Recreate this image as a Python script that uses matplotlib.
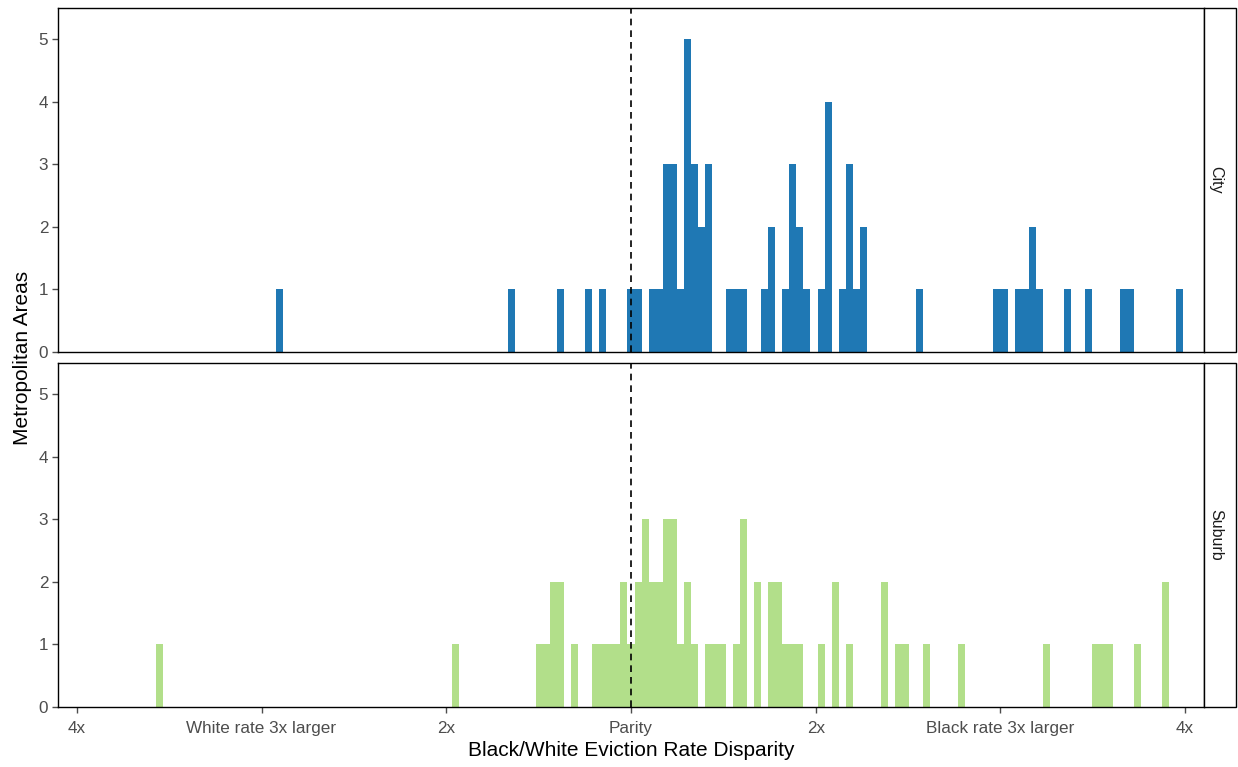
import numpy as np
import matplotlib
matplotlib.use("Agg")
import matplotlib.pyplot as plt
from matplotlib.patches import Rectangle

plt.rcParams['font.family'] = ['Liberation Sans', 'DejaVu Sans']

# histogram data: bin index (bin centre = index * binwidth) and count per bin
binwidth = 0.0381

city_bins = [-50, -17, -10, -6, -4, 0, 1, 3, 4, 5, 6, 7, 8, 9, 10, 11, 14, 15, 16,
             19, 20, 22, 23, 24, 25, 27, 28, 30, 31, 32, 33, 41, 52, 53, 55, 56,
             57, 58, 62, 65, 70, 71, 78]
city_counts = [1, 1, 1, 1, 1, 1, 1, 1, 1, 3, 3, 1, 5, 3, 2, 3, 1, 1, 1,
               1, 2, 1, 3, 2, 1, 1, 4, 1, 3, 1, 2, 1, 1, 1, 1, 1,
               2, 1, 1, 1, 1, 1, 1]

suburb_bins = [-67, -25, -13, -12, -11, -10, -8, -5, -4, -3, -2, -1, 0, 1, 2, 3, 4,
               5, 6, 7, 8, 9, 11, 12, 13, 15, 16, 18, 20, 21, 22, 23, 24, 27, 29,
               31, 36, 38, 39, 42, 47, 59, 66, 67, 68, 72, 76]
suburb_counts = [1, 1, 1, 1, 2, 2, 1, 1, 1, 1, 1, 2, 1, 2, 3, 2, 2,
                 3, 3, 1, 2, 1, 1, 1, 1, 1, 3, 2, 2, 2, 1, 1, 1, 1, 2,
                 1, 2, 1, 1, 1, 1, 1, 1, 1, 1, 1, 2]

tick_pos = [-3, -2, -1, 0, 1, 2, 3]
tick_labels = ["4x", "White rate 3x larger", "2x", "Parity", "2x",
               "Black rate 3x larger", "4x"]

panels = [("City", city_bins, city_counts, "#1F78B4"),
          ("Suburb", suburb_bins, suburb_counts, "#B2DF8A")]

W, H = 1238, 767
fig = plt.figure(figsize=(W / 100, H / 100), dpi=100)

left, right = 58, 1204
boxes = [(8, 352), (363, 707)]
grey = "#4D4D4D"

for i, (name, bins, counts, color) in enumerate(panels):
    top, bottom = boxes[i]
    ax = fig.add_axes([left / W, 1 - bottom / H, (right - left) / W, (bottom - top) / H])
    x = np.array(bins) * binwidth
    ax.bar(x, counts, width=binwidth, color=color, linewidth=0, align="center")
    ax.axvline(0, color="black", linestyle=(0, (4, 3)), linewidth=1.2)
    ax.set_xlim(-3.102, 3.102)
    ax.set_ylim(0, 5.5)
    ax.set_yticks(range(6))
    ax.tick_params(axis="both", colors=grey, labelsize=12.3, length=4, width=1, pad=3)
    ax.tick_params(axis="x", pad=6)
    for s in ax.spines.values():
        s.set_color("black")
        s.set_linewidth(1.0)
    ax.set_xticks(tick_pos)
    if i == 0:
        ax.tick_params(axis="x", bottom=False, labelbottom=False)
    else:
        ax.set_xticklabels(tick_labels)
        ax.set_xlabel("Black/White Eviction Rate Disparity", fontsize=15, color="black",
                      labelpad=4)

    # strip on the right
    fig.patches.append(Rectangle((right / W, 1 - bottom / H), (1236 - right) / W,
                                 (bottom - top) / H, transform=fig.transFigure,
                                 facecolor="white", edgecolor="black", linewidth=1.0))
    fig.text((right + 12) / W, 1 - (top + bottom) / 2 / H, name, rotation=-90,
             ha="center", va="center", fontsize=11.5, color="#1A1A1A")

fig.text(22 / W, 1 - 358 / H, "Metropolitan Areas", rotation=90, ha="center",
         va="center", fontsize=15, color="black")

fig.savefig("out.png", dpi=100)
